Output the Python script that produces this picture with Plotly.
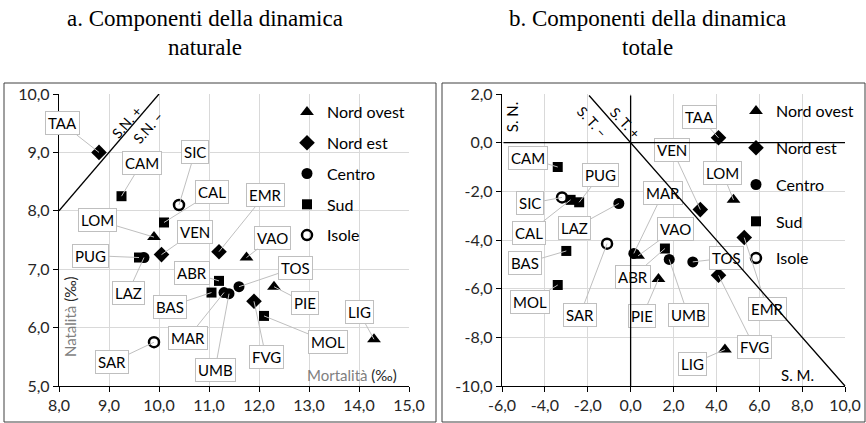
import plotly.graph_objects as go

# ---------------- data ----------------
regions = ["PIE", "VAO", "LOM", "LIG", "TAA", "VEN", "FVG", "EMR", "TOS", "UMB",
           "MAR", "LAZ", "ABR", "MOL", "CAM", "PUG", "BAS", "CAL", "SIC", "SAR"]
macro = ["Nord ovest"] * 4 + ["Nord est"] * 4 + ["Centro"] * 4 + ["Sud"] * 6 + ["Isole"] * 2
macro_order = ["Nord ovest", "Nord est", "Centro", "Sud", "Isole"]

# panel a: natural dynamics (per mille)
natalita = [6.7, 7.2, 7.55, 5.8, 9.0, 7.25, 6.45, 7.3, 6.7, 6.58,
            6.6, 7.2, 6.8, 6.2, 8.25, 7.2, 6.6, 7.8, 8.1, 5.75]
mortalita = [12.3, 11.75, 9.9, 14.3, 8.8, 10.05, 11.9, 11.2, 11.6, 11.4,
             11.3, 9.7, 11.2, 12.1, 9.25, 9.6, 11.05, 10.1, 10.4, 9.9]

# panel b: total dynamics (per mille)
saldo_migratorio = [1.3, 0.35, 4.8, 4.4, 4.1, 3.25, 4.1, 5.3, 2.9, 1.8,
                    0.15, -0.55, 1.6, -3.4, -3.4, -2.4, -3.0, -2.8, -3.2, -1.1]
saldo_naturale = [-5.6, -4.65, -2.35, -8.5, 0.2, -2.75, -5.45, -3.9, -4.9, -4.8,
                  -4.55, -2.5, -4.35, -5.85, -1.0, -2.45, -4.45, -2.35, -2.25, -4.15]

# tick labels
xa_ticks = [8, 9, 10, 11, 12, 13, 14, 15]
xa_text = ["8,0", "9,0", "10,0", "11,0", "12,0", "13,0", "14,0", "15,0"]
ya_ticks = [5, 6, 7, 8, 9, 10]
ya_text = ["5,0", "6,0", "7,0", "8,0", "9,0", "10,0"]
xb_ticks = [-6, -4, -2, 0, 2, 4, 6, 8, 10]
xb_text = ["-6,0", "-4,0", "-2,0", "0,0", "2,0", "4,0", "6,0", "8,0", "10,0"]
yb_ticks = [-10, -8, -6, -4, -2, 0, 2]
yb_text = ["-10,0", "-8,0", "-6,0", "-4,0", "-2,0", "0,0", "2,0"]

# ---------------- styling / layout helpers ----------------
W, H = 866, 423
symbols = {"Nord ovest": "triangle-up", "Nord est": "diamond", "Centro": "circle",
           "Sud": "square", "Isole": "circle-open"}
sizes = {"Nord ovest": 12, "Nord est": 12, "Centro": 11, "Sud": 10, "Isole": 10}

# callout offsets (pixels): label box centre relative to marker
offs_a = [(31, 16), (26, -20), (-57, -17), (-15, -27), (-37, -29), (33, -23), (12, 56),
          (46, -57), (56, -19), (-14, 76), (-36, 45), (-16, 35), (-27, -8), (64, 26),
          (20, -33), (-49, -2), (-42, 14), (48, -30), (16, -53), (-42, 20)]
offs_b = [(-16, 37), (37, -27), (-11, -27), (-32, 14), (-19, -21), (-28, -60), (36, 72),
          (23, 71), (34, -4), (19, 56), (29, -60), (-44, 24), (-32, 28), (-28, 17),
          (-30, -9), (21, -27), (-41, 12), (-42, 33), (-32, 6), (-27, 71)]

FONT = "Lato"
TXT = "#262626"
GRID = "#d9d9d9"
CALL = "#bfbfbf"


def px(x):
    return x / W


def py(y):
    return 1 - y / H


fig = go.Figure()

for m in macro_order:
    idx = [i for i, mm in enumerate(macro) if mm == m]
    sym = symbols[m]
    mk = dict(symbol=sym, size=sizes[m], color="black",
              line=dict(color="black", width=2.5 if sym == "circle-open" else 0))
    fig.add_trace(go.Scatter(
        x=[mortalita[i] for i in idx], y=[natalita[i] for i in idx],
        mode="markers", name=m, marker=mk, xaxis="x", yaxis="y",
        legend="legend", legendgroup="a" + m, showlegend=True, hoverinfo="skip"))
    fig.add_trace(go.Scatter(
        x=[saldo_migratorio[i] for i in idx], y=[saldo_naturale[i] for i in idx],
        mode="markers", name=m, marker=mk, xaxis="x2", yaxis="y2",
        legend="legend2", legendgroup="b" + m, showlegend=True, hoverinfo="skip"))

annotations = []
lab_font = dict(family=FONT, size=15, color="black")
for i, r in enumerate(regions):
    annotations.append(dict(
        x=mortalita[i], y=natalita[i], xref="x", yref="y", text=r,
        showarrow=True, arrowhead=0, arrowwidth=1, arrowcolor=CALL,
        ax=offs_a[i][0], ay=offs_a[i][1], bgcolor="white", bordercolor=CALL,
        borderwidth=1, borderpad=2, font=lab_font))
    annotations.append(dict(
        x=saldo_migratorio[i], y=saldo_naturale[i], xref="x2", yref="y2", text=r,
        showarrow=True, arrowhead=0, arrowwidth=1, arrowcolor=CALL,
        ax=offs_b[i][0], ay=offs_b[i][1], bgcolor="white", bordercolor=CALL,
        borderwidth=1, borderpad=2, font=lab_font))

# reference lines of panel b drawn above the callouts
for (x0, y0, x1, y1) in [(-2, 2, 10, -10), (0, 2, 0, -10), (-6, 0, 10, 0)]:
    annotations.append(dict(x=x1, y=y1, ax=x0, ay=y0, xref="x2", yref="y2",
                            axref="x2", ayref="y2", text="", showarrow=True,
                            arrowhead=0, arrowwidth=1.3, arrowcolor="black",
                            standoff=0, startstandoff=0))

# texts on lines / axes
annotations += [
    dict(x=9.34, y=9.52, xref="x", yref="y", text="S.N. +", textangle=-49,
         showarrow=False, font=dict(family=FONT, size=14, color="black")),
    dict(x=9.78, y=9.42, xref="x", yref="y", text="S.N. \u2013", textangle=-49,
         showarrow=False, font=dict(family=FONT, size=14, color="black")),
    dict(x=8.22, y=6.18, xref="x", yref="y", textangle=-90, showarrow=False,
         text="<span style='color:#7f7f7f'>Natalità</span> (‰)",
         font=dict(family=FONT, size=15, color=TXT)),
    dict(x=13.86, y=5.19, xref="x", yref="y", showarrow=False,
         text="<span style='color:#7f7f7f'>Mortalità</span> (‰)",
         font=dict(family=FONT, size=15, color=TXT)),
    dict(x=-1.8, y=0.85, xref="x2", yref="y2", text="S. T. \u2013", textangle=47,
         showarrow=False, font=dict(family=FONT, size=14, color="black")),
    dict(x=-0.26, y=0.81, xref="x2", yref="y2", text="S. T. +", textangle=47,
         showarrow=False, font=dict(family=FONT, size=14, color="black")),
    dict(x=-5.53, y=1.05, xref="x2", yref="y2", text="S. N.", textangle=-90,
         showarrow=False, font=dict(family=FONT, size=15, color="black")),
    dict(x=7.8, y=-9.55, xref="x2", yref="y2", text="S. M.",
         showarrow=False, font=dict(family=FONT, size=15, color="black")),
]

# titles
tfont = dict(family="Liberation Serif", size=23, color="black")
for xc, l1, l2 in [(205, "a. Componenti della dinamica", "naturale"),
                   (647, "b. Componenti della dinamica", "totale")]:
    annotations.append(dict(x=px(xc), y=py(19), xref="paper", yref="paper", text=l1,
                            showarrow=False, font=tfont, xanchor="center", yanchor="middle"))
    annotations.append(dict(x=px(xc), y=py(48), xref="paper", yref="paper", text=l2,
                            showarrow=False, font=tfont, xanchor="center", yanchor="middle"))

shapes = [
    dict(type="rect", xref="paper", yref="paper", x0=px(4), x1=px(436), y0=py(422), y1=py(83),
         line=dict(color="#404040", width=1)),
    dict(type="rect", xref="paper", yref="paper", x0=px(442), x1=px(865), y0=py(422), y1=py(83),
         line=dict(color="#404040", width=1)),
    dict(type="line", xref="x", yref="y", x0=8, y0=8, x1=10, y1=10,
         line=dict(color="black", width=1.3)),
]

tickfont = dict(family=FONT, size=16, color=TXT)
common = dict(showgrid=True, gridcolor=GRID, gridwidth=1, showline=True, linecolor="black",
              linewidth=1.3, ticks="outside", ticklen=5, tickcolor="black", tickwidth=1,
              tickfont=tickfont, tickmode="array", zeroline=False, fixedrange=True,
              automargin=False)

fig.update_layout(
    width=W, height=H, margin=dict(l=0, r=0, t=0, b=0, pad=0, autoexpand=False),
    paper_bgcolor="white", plot_bgcolor="white", separators=",.",
    xaxis=dict(domain=[px(59), px(409)], range=[8, 15], tickvals=xa_ticks, ticktext=xa_text,
               anchor="y", **common),
    yaxis=dict(domain=[py(386), py(94)], range=[5, 10], tickvals=ya_ticks, ticktext=ya_text,
               anchor="x", **common),
    xaxis2=dict(domain=[px(502), px(845)], range=[-6, 10], tickvals=xb_ticks, ticktext=xb_text,
                anchor="y2", **common),
    yaxis2=dict(domain=[py(386), py(94)], range=[-10, 2], tickvals=yb_ticks, ticktext=yb_text,
                anchor="x2", **common),
    legend=dict(x=px(287), y=py(95), xanchor="left", yanchor="top", bgcolor="rgba(0,0,0,0)",
                font=dict(family=FONT, size=16, color="black"), traceorder="grouped",
                tracegroupgap=7, itemclick=False),
    legend2=dict(x=px(736), y=py(94), xanchor="left", yanchor="top", bgcolor="rgba(0,0,0,0)",
                 font=dict(family=FONT, size=16, color="black"), traceorder="grouped",
                 tracegroupgap=13, itemclick=False),
    annotations=annotations, shapes=shapes, showlegend=True,
)

fig.write_html("out.html")
